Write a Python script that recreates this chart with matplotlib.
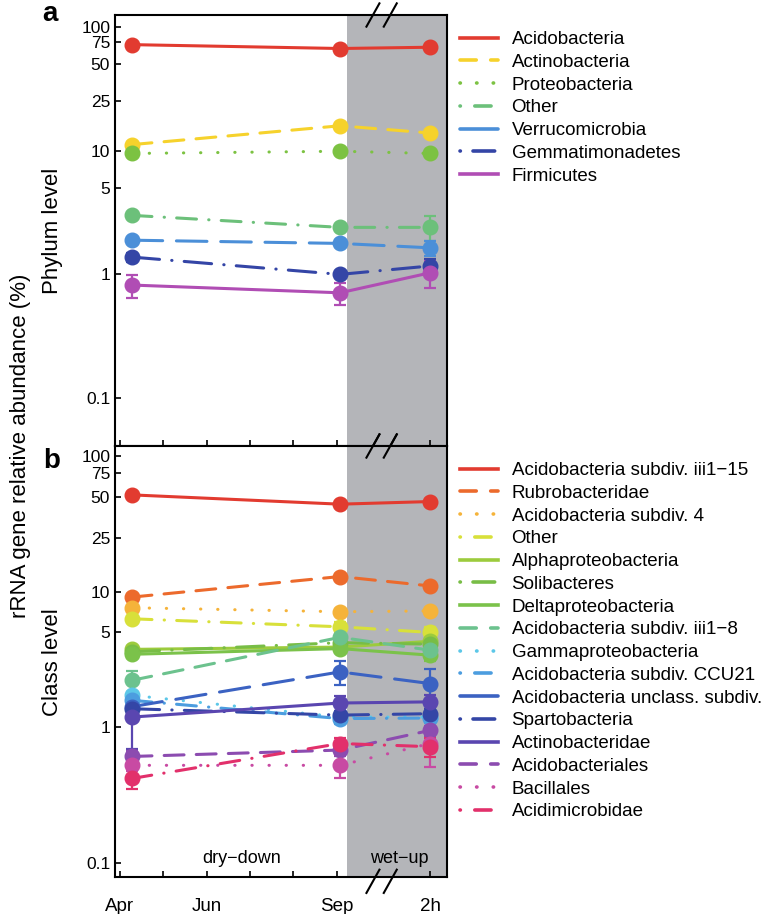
import matplotlib
matplotlib.use("Agg")
import matplotlib.pyplot as plt
import matplotlib.transforms as mtransforms
import numpy as np

plt.rcParams['font.family'] = ['Liberation Sans', 'DejaVu Sans']

# x positions: months since April (Apr=0 ... Sep=5), then the break, then 2h after wet-up
x_pts = [0.28, 5.08, 7.16]
tick_pos = [0, 2, 5, 7.16]
tick_lab = ['Apr', 'Jun', 'Sep', '2h']
minor_pos = [1, 3, 4]
ytick_vals = [0.1, 1, 5, 10, 25, 50, 75, 100]
ytick_lab = ['0.1', '1', '5', '10', '25', '50', '75', '100']

# panel a, phylum level (% relative abundance, Apr / Sep / 2h)
phy_names = ['Acidobacteria', 'Actinobacteria', 'Proteobacteria', 'Other',
             'Verrucomicrobia', 'Gemmatimonadetes', 'Firmicutes']
phy_vals = [[72, 67, 68.6],
            [11.2, 15.9, 13.9],
            [9.5, 9.9, 9.5],
            [3.0, 2.4, 2.4],
            [1.89, 1.78, 1.64],
            [1.38, 1.0, 1.17],
            [0.82, 0.71, 1.03]]
phy_err = [[2, 2, 2],
           [0.5, 0.8, 0.6],
           [0.3, 0.3, 0.3],
           [0.12, 0.1, 0.55],
           [0.08, 0.1, 0.22],
           [0.12, 0.06, 0.15],
           [0.17, 0.14, 0.25]]
phy_cols = ['#e23b30', '#f6d22c', '#7cc242', '#6cc07a', '#4b8fd8', '#3445a6', '#b04db4']

# panel b, class level
cls_names = ['Acidobacteria subdiv. iii1\u221215', 'Rubrobacteridae', 'Acidobacteria subdiv. 4',
             'Other', 'Alphaproteobacteria', 'Solibacteres', 'Deltaproteobacteria',
             'Acidobacteria subdiv. iii1\u22128', 'Gammaproteobacteria',
             'Acidobacteria subdiv. CCU21', 'Acidobacteria unclass. subdiv.', 'Spartobacteria',
             'Actinobacteridae', 'Acidobacteriales', 'Bacillales', 'Acidimicrobidae']
cls_vals = [[51.5, 44, 46],
            [9.1, 12.9, 11.0],
            [7.6, 7.1, 7.2],
            [6.3, 5.5, 5.0],
            [3.75, 3.9, 4.3],
            [3.6, 4.2, 4.1],
            [3.45, 3.8, 3.4],
            [2.22, 4.6, 3.7],
            [1.72, 1.19, 1.19],
            [1.58, 1.16, 1.17],
            [1.42, 2.56, 2.1],
            [1.37, 1.23, 1.26],
            [1.19, 1.51, 1.54],
            [0.61, 0.68, 0.95],
            [0.525, 0.525, 0.76],
            [0.42, 0.76, 0.72]]
cls_err = [[2, 2, 2],
           [0.5, 0.6, 0.6],
           [0.3, 0.4, 0.4],
           [0.3, 0.5, 0.5],
           [0.2, 0.2, 0.3],
           [0.2, 0.3, 0.3],
           [0.2, 0.2, 0.3],
           [0.4, 0.6, 0.5],
           [0.1, 0.1, 0.1],
           [0.1, 0.1, 0.1],
           [0.12, 0.5, 0.6],
           [0.1, 0.1, 0.1],
           [0.5, 0.18, 0.2],
           [0.06, 0.06, 0.08],
           [0.05, 0.1, 0.25],
           [0.07, 0.08, 0.12]]
cls_cols = ['#e23b30', '#ec6a2c', '#f5b33a', '#d8e03a', '#9ccb3d', '#78bd46', '#7bc24a',
            '#6cc28e', '#5cc7e8', '#4c9ddf', '#3b62c2', '#3446a6', '#5a46b0', '#8c4cb0',
            '#c84aa3', '#e2306b']

solid = '-'
dash = (0, (6.5, 4.0))
dot = (0, (0.1, 5.5))
dashdot = (0, (6.5, 4.0, 0.1, 4.0))
longdash = (0, (10, 4.5))
dashdot_long = (0, (9, 4.0, 0.1, 4.0))
phy_ls = [solid, dash, dot, dashdot, longdash, dashdot_long, solid]
cls_ls = [solid, dash, dot, dashdot, solid, dashdot_long, solid, dash, dot, dashdot,
          longdash, dashdot_long, solid, dash, dot, dashdot]

# shorter patterns for the legend keys
leg_style = {solid: '-', dash: (0, (4.5, 4.0)), dot: (0, (0.1, 4.5)),
             dashdot: (0, (0.1, 4.0, 4.5, 3.0)), longdash: (0, (12, 4)),
             dashdot_long: (0, (0.1, 3.5, 6, 3))}

W, H = 770, 914
fig = plt.figure(figsize=(W / 100, H / 100), dpi=100)
x0, x1 = 115 / W, 447 / W
ax_a = fig.add_axes([x0, 1 - 446 / H, x1 - x0, (446 - 15) / H])
ax_b = fig.add_axes([x0, 1 - 877 / H, x1 - x0, (877 - 446) / H])


def draw(ax, names, vals, errs, cols, styles, ylim):
    ax.axvspan(5.24, 8, color='#b4b5b9', zorder=0, lw=0)
    for n, v, e, c, ls in zip(names, vals, errs, cols, styles):
        ax.errorbar(x_pts, v, yerr=e, fmt='none', ecolor=c, elinewidth=1.6,
                    capsize=4, capthick=1.6, zorder=2)
        ax.plot(x_pts, v, color=c, lw=2.2, ls=ls, marker='o', ms=10.5,
                dash_capstyle='round', solid_capstyle='round', zorder=3, label=n)
    ax.set_yscale('log')
    ax.set_ylim(*ylim)
    ax.set_xlim(-0.115, 7.55)
    ax.set_yticks(ytick_vals)
    ax.set_yticklabels(ytick_lab)
    ax.yaxis.set_minor_locator(matplotlib.ticker.NullLocator())
    ax.set_xticks(tick_pos)
    ax.set_xticks(minor_pos, minor=True)
    ax.tick_params(axis='both', which='both', direction='in', labelsize=12.5,
                   length=4, width=1.2)
    ax.tick_params(axis='x', which='both', top=False)
    for s in ax.spines.values():
        s.set_linewidth(1.5)
    handles = [plt.Line2D([], [], color=c, ls=leg_style[ls], lw=2.6, dash_capstyle='round')
               for c, ls in zip(cols, styles)]
    return handles


h_a = draw(ax_a, phy_names, phy_vals, phy_err, phy_cols, phy_ls, (0.041, 125))
h_b = draw(ax_b, cls_names, cls_vals, cls_err, cls_cols, cls_ls, (0.079, 118))
ax_a.tick_params(axis='x', labelbottom=False)
ax_b.set_xticklabels(tick_lab, fontsize=13.5)
ax_b.tick_params(axis='x', pad=15)

# break marks
for ax, yc in [(ax_a, 1.0), (ax_a, 0.0), (ax_b, 1.0), (ax_b, 0.0)]:
    tr = mtransforms.blended_transform_factory(ax.transData, ax.transAxes)
    off = -0.01 if (ax is ax_b and yc == 0.0) else 0.0
    for xc in [5.84, 6.24]:
        ax.plot([xc - 0.15, xc + 0.15], [yc + off - 0.027, yc + off + 0.027], color='black',
                lw=1.5, transform=tr, clip_on=False, zorder=5)

ax_b.text(2.8, 0.108, 'dry\u2212down', ha='center', va='center', fontsize=13)
ax_b.text(6.45, 0.108, 'wet\u2212up', ha='center', va='center', fontsize=13)

fig.text(50 / W, 1 - 14 / H, 'a', fontsize=20, fontweight='bold', ha='center', va='center')
fig.text(52 / W, 1 - 461 / H, 'b', fontsize=20, fontweight='bold', ha='center', va='center')
fig.text(53 / W, 1 - 231 / H, 'Phylum level', rotation=90, fontsize=16, ha='center', va='center')
fig.text(53 / W, 1 - 662 / H, 'Class level', rotation=90, fontsize=16, ha='center', va='center')
fig.text(21 / W, 1 - 446 / H, 'rRNA gene relative abundance (%)', rotation=90, fontsize=16,
         ha='center', va='center')

leg_kw = dict(loc='upper left', frameon=False, fontsize=13.5, borderpad=0, borderaxespad=0,
              handlelength=2.0, handletextpad=0.75, labelspacing=0.3)
fig.legend(handles=h_a, labels=phy_names, bbox_to_anchor=(460 / W, 1 - 31 / H), **leg_kw)
fig.legend(handles=h_b, labels=cls_names, bbox_to_anchor=(460 / W, 1 - 462 / H), **leg_kw)

fig.savefig('out.png', dpi=100)
